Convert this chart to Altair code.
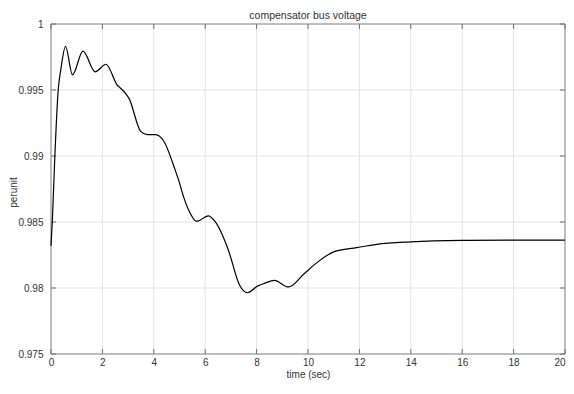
import altair as alt
import pandas as pd

# time (sec) and voltage (per unit)
time_s = [0.0, 0.05, 0.15, 0.28, 0.385, 0.566, 0.835, 1.245, 1.72, 2.14, 2.59, 2.66,
          2.91, 3.04, 3.49, 3.75, 4.07, 4.39, 4.84, 4.97, 5.16, 5.35, 5.67, 6.12,
          6.38, 6.89, 7.34, 7.64, 8.05, 8.3, 8.69, 9.24, 9.85, 10.36, 11.0, 11.9,
          12.67, 14.0, 16.0, 18.0, 20.0]
voltage = [0.9832, 0.9850, 0.9900, 0.9950, 0.99658, 0.99830, 0.99615, 0.99794, 0.99638,
           0.99695, 0.99534, 0.99522, 0.99472, 0.99435, 0.99187, 0.99162, 0.99162,
           0.99112, 0.98889, 0.98815, 0.98690, 0.98592, 0.98504, 0.98547, 0.98504,
           0.98294, 0.98021, 0.97964, 0.98016, 0.98035, 0.98058, 0.98008, 0.98108,
           0.98194, 0.98274, 0.98306, 0.98331, 0.98350, 0.98361, 0.98363, 0.98363]

x_ticks = [0, 2, 4, 6, 8, 10, 12, 14, 16, 18, 20]
y_ticks = [0.975, 0.98, 0.985, 0.99, 0.995, 1.0]
title_text = "compensator bus voltage"

df = pd.DataFrame({"t": time_s, "v": voltage})
xt = pd.DataFrame({"t": x_ticks})
yt = pd.DataFrame({"v": y_ticks})
one = pd.DataFrame({"k": [0]})

W, H = 514, 330
TL = 5  # tick length in px (inward, MATLAB style)
FONT = "Liberation Sans"
FRAME = "#8a8a8a"
TICK = "#6f6f6f"
TEXT = "#333333"
GRID = "#e3e3e3"

xscale = alt.Scale(domain=[0, 20], nice=False, zero=False)
yscale = alt.Scale(domain=[0.975, 1.0], nice=False, zero=False)

x_axis = alt.Axis(orient="bottom", values=x_ticks, format="d", title="time (sec)",
                  grid=False, ticks=False, domain=False, labelFlush=False,
                  labelAlign={"condition": {"test": "datum.value == 20", "value": "right"},
                              "value": "center"},
                  labelPadding=3, titlePadding=2)
y_axis = alt.Axis(orient="left", values=y_ticks, format="~g", title="perunit",
                  grid=False, ticks=False, domain=False, labelFlush=False,
                  labelPadding=8, titleX=-33, titleY=168, titleBaseline="bottom")

X = alt.X("t:Q", scale=xscale, axis=x_axis)
Y = alt.Y("v:Q", scale=yscale, axis=y_axis)

grid_x = alt.Chart(xt).mark_rule(color=GRID, strokeWidth=1).encode(
    x=X, y=alt.value(0), y2=alt.value(H))
grid_y = alt.Chart(yt).mark_rule(color=GRID, strokeWidth=1).encode(
    y=Y, x=alt.value(0), x2=alt.value(W))

frame = alt.Chart(one).mark_rect(filled=False, stroke=FRAME, strokeWidth=1).encode(
    x=alt.value(0), x2=alt.value(W), y=alt.value(0), y2=alt.value(H))

tick_bottom = alt.Chart(xt).mark_rule(color=TICK, strokeWidth=1).encode(
    x=X, y=alt.value(H), y2=alt.value(H - TL))
tick_top = alt.Chart(xt).mark_rule(color=TICK, strokeWidth=1).encode(
    x=X, y=alt.value(0), y2=alt.value(TL))
tick_left = alt.Chart(yt).mark_rule(color=TICK, strokeWidth=1).encode(
    y=Y, x=alt.value(0), x2=alt.value(TL))
tick_right = alt.Chart(yt).mark_rule(color=TICK, strokeWidth=1).encode(
    y=Y, x=alt.value(W), x2=alt.value(W - TL))

line = alt.Chart(df).mark_line(color="black", strokeWidth=1.2,
                               interpolate="monotone").encode(x=X, y=Y)

title = alt.Chart(one).mark_text(
    text=title_text, font=FONT, fontSize=10.5, color=TEXT,
    align="center", baseline="alphabetic"
).encode(x=alt.value(W / 2), y=alt.value(-5.5))

chart = alt.layer(
    grid_x, grid_y, frame, tick_bottom, tick_top, tick_left, tick_right, line, title
).properties(
    width=W,
    height=H,
    autosize="none",
    padding={"left": 43, "top": 16, "right": 1, "bottom": 26},
).configure_view(
    stroke=None
).configure_axis(
    labelFont=FONT, titleFont=FONT, labelFontSize=10, titleFontSize=10,
    labelColor=TEXT, titleColor=TEXT, titleFontWeight="normal",
)

chart.save("out.html", embed_options={"renderer": "svg", "actions": False})
